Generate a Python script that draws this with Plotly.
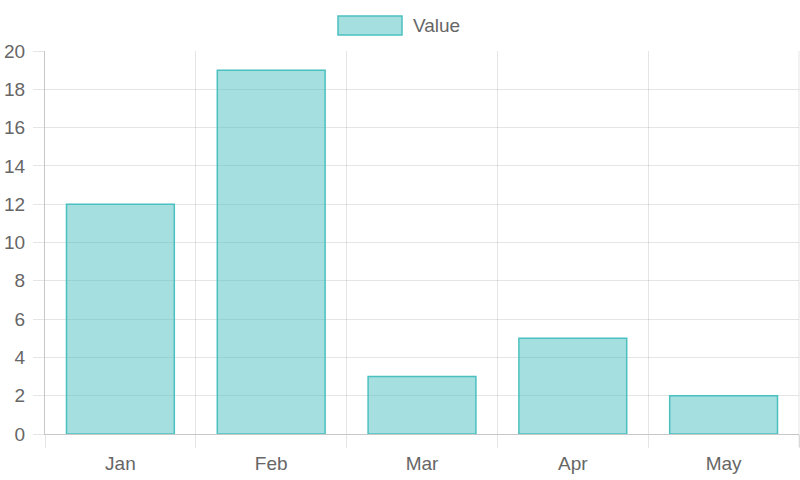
import plotly.graph_objects as go

categories = ["Jan", "Feb", "Mar", "Apr", "May"]
values = [12, 19, 3, 5, 2]
series_name = "Value"
y_ticks = list(range(0, 21, 2))

fill = "rgba(75,192,192,0.5)"
border = "rgb(75,192,192)"
grid = "rgba(0,0,0,0.1)"
axis_line = "rgba(0,0,0,0.22)"
text_color = "#666666"
font_family = "Liberation Sans, Arial, sans-serif"
font_size = 19

fig = go.Figure(
    go.Bar(
        x=categories,
        y=values,
        name=series_name,
        marker=dict(color=fill, line=dict(color=border, width=1.5)),
        showlegend=False,
        hoverinfo="skip",
    )
)

fig.update_layout(
    width=800,
    height=480,
    margin=dict(l=45, r=1, t=51, b=46),
    paper_bgcolor="white",
    plot_bgcolor="white",
    bargap=0.285,
    font=dict(family=font_family, size=font_size, color=text_color),
    showlegend=False,
)

fig.update_xaxes(
    type="category",
    tickson="boundaries",
    showgrid=True,
    gridcolor=grid,
    gridwidth=1,
    ticks="outside",
    ticklen=13,
    tickcolor=grid,
    showline=True,
    linecolor=axis_line,
    linewidth=1,
    ticklabelstandoff=12,
    tickfont=dict(size=font_size, color=text_color),
    zeroline=False,
    automargin=False,
    fixedrange=True,
)

fig.update_yaxes(
    range=[0, 20],
    tickvals=y_ticks,
    showgrid=True,
    gridcolor=grid,
    gridwidth=1,
    ticks="outside",
    ticklen=11,
    tickcolor=grid,
    showline=True,
    linecolor=axis_line,
    linewidth=1,
    zeroline=False,
    ticklabelstandoff=4,
    tickfont=dict(size=font_size, color=text_color),
    automargin=False,
    fixedrange=True,
)

# right border gridline (Chart.js draws last category boundary)
fig.add_shape(
    type="line", xref="paper", yref="paper",
    x0=1, x1=1, y0=-13 / 383, y1=1,
    line=dict(color=grid, width=1),
)

# Custom legend (Chart.js-style wide box)
fig.add_shape(
    type="rect", xref="paper", yref="paper",
    x0=(338 - 45) / 754, x1=(402 - 45) / 754,
    y0=1 + (51 - 35) / 383, y1=1 + (51 - 16) / 383,
    fillcolor=fill, line=dict(color=border, width=1.5),
)
fig.add_annotation(
    xref="paper", yref="paper",
    x=(411 - 45) / 754, y=1 + (51 - 25.5) / 383,
    xanchor="left", yanchor="middle",
    text=series_name, showarrow=False,
    font=dict(size=font_size, color=text_color, family=font_family),
)

fig.write_html(
    "out.html",
    config={"displayModeBar": False, "staticPlot": True},
    post_script="document.body.style.margin='0';document.body.style.overflow='hidden';",
)
